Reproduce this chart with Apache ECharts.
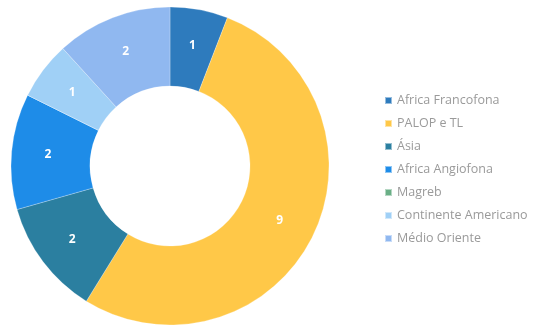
<!DOCTYPE html>
<html><head><meta charset="utf-8">
<script src="https://cdn.jsdelivr.net/npm/echarts@6/dist/echarts.min.js"></script>
<style>html,body{margin:0;padding:0;background:#fff}#c{width:535px;height:331px}</style>
</head><body><div id="c"></div>
<script>
const categories = ['Africa Francofona', 'PALOP e TL', 'Ásia', 'Africa Angiofona', 'Magreb', 'Continente Americano', 'Médio Oriente'];
const values = [1, 9, 2, 2, 0, 1, 2];
const colors = ['#2e7bbd', '#ffc848', '#2b7fa0', '#1e8ce8', '#6aaf86', '#a0d0f6', '#90b8f0'];

const chart = echarts.init(document.getElementById('c'));
chart.setOption({
  animation: false,
  color: colors,
  legend: {
    orient: 'vertical',
    left: 379,
    top: 89,
    itemWidth: 7,
    itemHeight: 7,
    itemGap: 10,
    icon: 'rect',
    textStyle: { color: '#9a9a9a', fontSize: 12.5, fontFamily: 'Open Sans', lineHeight: 13 },
    data: categories
  },
  series: [{
    type: 'pie',
    center: [170, 166],
    radius: [80, 159],
    startAngle: 90,
    clockwise: true,
    avoidLabelOverlap: false,
    itemStyle: { borderColor: 'rgba(255,255,255,0.5)', borderWidth: 0.5 },
    label: {
      position: 'inside',
      color: '#fff',
      fontWeight: 'bold',
      fontSize: 12,
      fontFamily: 'Open Sans',
      formatter: p => p.value ? String(p.value) : ''
    },
    labelLine: { show: false },
    data: categories.map((n, i) => ({ name: n, value: values[i] }))
  }]
});
</script></body></html>
